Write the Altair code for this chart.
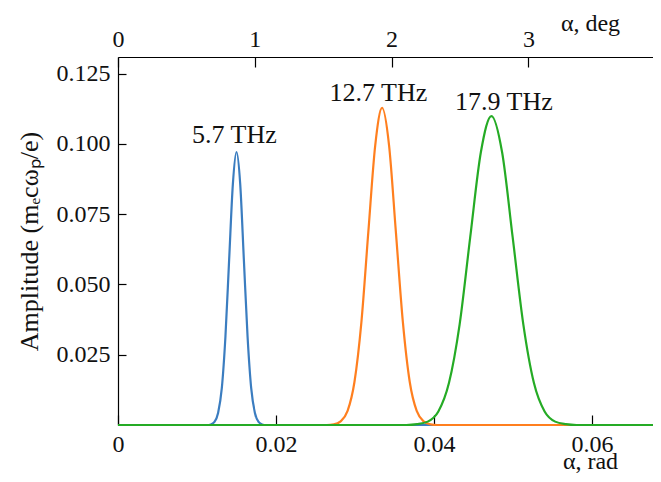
import altair as alt
import pandas as pd

# ---- data ----
XMAX = 0.06772      # right edge of visible plot (rad)
YMAX = 0.1309       # top of plot
DEGMAX = 3.911      # top axis (deg) right edge

RAD_TICKS = [0, 0.02, 0.04, 0.06]
DEG_TICKS = [0, 1, 2, 3]
Y_TICKS = [0, 0.025, 0.05, 0.075, 0.1, 0.125, YMAX]

series_names = ["5.7 THz", "12.7 THz", "17.9 THz"]
colors = ["#3b7dc0", "#ff7f1f", "#25ab25"]

blue_x = [0.01128, 0.01174, 0.01221, 0.01267, 0.01314, 0.01360, 0.01407, 0.01454, 0.01500,
          0.01547, 0.01593, 0.01640, 0.01686, 0.01733, 0.01779, 0.01826, 0.01872]
blue_y = [0.0000, 0.0002, 0.0011, 0.0043, 0.0131, 0.0315, 0.0589, 0.0857, 0.0971,
          0.0857, 0.0589, 0.0315, 0.0131, 0.0043, 0.0011, 0.0002, 0.0000]

orange_x = [0.02643, 0.02731, 0.02818, 0.02906, 0.02993, 0.03081, 0.03168, 0.03256, 0.03343,
            0.03431, 0.03518, 0.03606, 0.03693, 0.03781, 0.03868, 0.03956, 0.04043]
orange_y = [0.0000, 0.0002, 0.0013, 0.0050, 0.0153, 0.0366, 0.0684, 0.0995, 0.1128,
            0.0995, 0.0684, 0.0366, 0.0153, 0.0050, 0.0013, 0.0002, 0.0000]

green_x = [0.03651, 0.03786, 0.03920, 0.04055, 0.04189, 0.04324, 0.04458, 0.04593, 0.04727,
           0.04862, 0.04996, 0.05131, 0.05265, 0.05400, 0.05534, 0.05669, 0.05803]
green_y = [0.0000, 0.0003, 0.0012, 0.0048, 0.0149, 0.0357, 0.0667, 0.0970, 0.1099,
           0.0970, 0.0667, 0.0357, 0.0149, 0.0048, 0.0012, 0.0003, 0.0000]

label_text = ["5.7 THz", "12.7 THz", "17.9 THz"]
label_x = [0.01473, 0.03296, 0.04885]
label_y = [0.1031, 0.1181, 0.1149]

# ---- build tables ----
rows = []
for name, xs, ys in zip(series_names, [blue_x, orange_x, green_x], [blue_y, orange_y, green_y]):
    pts = [(0.0, 0.0)] + list(zip(xs, ys)) + [(XMAX, 0.0)]
    for i, (a, b) in enumerate(pts):
        rows.append({"series": name, "alpha": a, "amp": b, "order": i})
df = pd.DataFrame(rows)
lab = pd.DataFrame({"text": label_text, "alpha": label_x, "amp": label_y})
degdf = pd.DataFrame({"deg": DEG_TICKS})

FONT = "Liberation Serif, Times New Roman, Times, serif"
FS = 26     # annotations
LFS = 24    # tick labels
TFS = 24    # axis titles

xscale = alt.Scale(domain=[0, XMAX], nice=False, zero=False)
yscale = alt.Scale(domain=[0, YMAX], nice=False, zero=False)

x_axis = alt.Axis(
    orient="bottom", values=RAD_TICKS,
    labelExpr="datum.value == 0 ? '0' : format(datum.value, '.2f')",
    title="α, rad", offset=-10, tickSize=10, domain=False, grid=True,
    gridColor="#000000", gridWidth=1.2,
    gridOpacity={"condition": {"test": "datum.value == 0", "value": 1}, "value": 0},
    labelPadding=7, labelFlush=False,
    titleX=472, titleY=53, titleAlign="center", titleBaseline="alphabetic",
)
y_axis = alt.Axis(
    orient="left", values=Y_TICKS,
    labelExpr="(datum.value <= 0 || datum.value > 0.13) ? '' : format(datum.value, '.3f')",
    title="Amplitude (mₑcωₚ/e)", offset=-8, tickSize=8, domain=False, grid=True,
    gridColor="#000000", gridWidth=1.2,
    gridOpacity={"condition": {"test": "datum.value <= 0 || datum.value > 0.13", "value": 1}, "value": 0},
    tickOpacity={"condition": {"test": "datum.value <= 0 || datum.value > 0.13", "value": 0}, "value": 1},
    labelPadding=8, titlePadding=14, labelFlush=False, titleFontSize=FS,
)
top_axis = alt.Axis(
    orient="top", values=DEG_TICKS, format="d", title="α, deg",
    offset=-10, tickSize=10, domain=False, grid=False, labelPadding=6, labelFlush=False,
    titleX=472, titleY=-37, titleAlign="center", titleBaseline="alphabetic",
)

lines = alt.Chart(df).mark_line(strokeWidth=2.2, interpolate="monotone").encode(
    x=alt.X("alpha:Q", scale=xscale, axis=x_axis),
    y=alt.Y("amp:Q", scale=yscale, axis=y_axis),
    color=alt.Color("series:N", scale=alt.Scale(domain=series_names, range=colors), legend=None),
    order="order:Q",
)

texts = alt.Chart(lab).mark_text(font=FONT, fontSize=FS, color="#111111", baseline="middle", align="center").encode(
    x=alt.X("alpha:Q", scale=xscale),
    y=alt.Y("amp:Q", scale=yscale),
    text="text:N",
)

top = alt.Chart(degdf).mark_point(opacity=0).encode(
    x=alt.X("deg:Q", scale=alt.Scale(domain=[0, DEGMAX], nice=False, zero=False), axis=top_axis),
)

chart = alt.layer(alt.layer(lines, texts), top).resolve_scale(x="independent").properties(
    width=535, height=368,
    padding={"left": 110, "top": 49, "right": 0, "bottom": 49},
    autosize=alt.AutoSizeParams(type="none"),
).configure_view(stroke=None).configure_axis(
    labelFont=FONT, titleFont=FONT, labelFontSize=LFS, titleFontSize=TFS,
    titleFontWeight="normal", labelColor="#111111", titleColor="#111111",
    tickColor="#000000", tickWidth=1.2,
)

chart.save("out.html", embed_options={"renderer": "svg", "actions": False})
